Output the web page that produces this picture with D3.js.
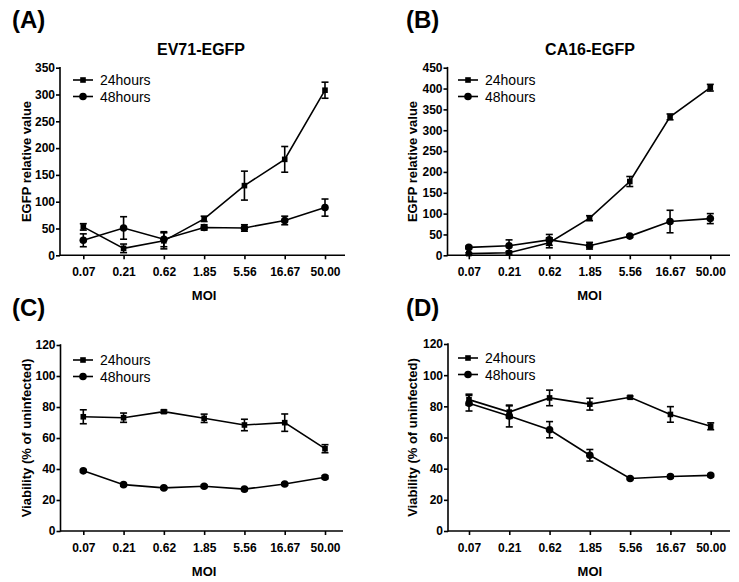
<!DOCTYPE html>
<html>
<head>
<meta charset="utf-8">
<script src="https://cdn.jsdelivr.net/npm/d3@7"></script>
<style>
  html, body { margin: 0; padding: 0; background: #fff; }
  svg { display: block; font-family: "Liberation Sans", Arial, sans-serif; }
</style>
</head>
<body>
<svg id="chart" width="739" height="582"></svg>
<script>
// ---- Data ----
const categories = ["0.07", "0.21", "0.62", "1.85", "5.56", "16.67", "50.00"];
const seriesNames = ["24hours", "48hours"];

// (A) EV71-EGFP
const ev71_24 = [53, 13, 27, 68, 130, 179, 308];
const ev71_24err = [6, 8, 15, 5, 27, 24, 15];
const ev71_48 = [28, 51, 30, 52, 51, 65, 89];
const ev71_48err = [12, 21, 14, 5, 6, 8, 16];

// (B) CA16-EGFP
const ca16_24 = [4, 6, 30, 89, 177, 332, 402];
const ca16_24err = [2, 3, 12, 6, 12, 7, 8];
const ca16_48 = [19, 23, 37, 23, 46, 81, 88];
const ca16_48err = [3, 14, 13, 8, 3, 27, 12];

// (C) viability EV71
const viaC_24 = [73.7, 73.1, 77, 72.7, 68.4, 69.9, 53.1];
const viaC_24err = [4.5, 3, 1, 2.7, 3.7, 5.6, 2.6];
const viaC_48 = [38.8, 29.9, 27.8, 28.9, 27, 30.3, 34.7];
const viaC_48err = [0.8, 0.8, 0.8, 0.8, 0.8, 0.8, 1];

// (D) viability CA16
const viaD_24 = [84.3, 76.3, 85.4, 81.4, 85.8, 74.8, 67.2];
const viaD_24err = [3.5, 4, 5, 3.8, 0.8, 5, 2.2];
const viaD_48 = [82, 73.8, 65, 48.6, 33.7, 35, 35.7];
const viaD_48err = [5, 7, 5.2, 3.7, 0.6, 0.8, 0.8];

const ticksEGFP_A = [0, 50, 100, 150, 200, 250, 300, 350];
const ticksEGFP_B = [0, 50, 100, 150, 200, 250, 300, 350, 400, 450];
const ticksVia = [0, 20, 40, 60, 80, 100, 120];

const panels = [
  { label: "(A)", title: "EV71-EGFP", ylabel: "EGFP relative value",
    s24: ev71_24, e24: ev71_24err, s48: ev71_48, e48: ev71_48err, ticks: ticksEGFP_A,
    axisX: 60, xFirst: 83.3, xLast: 325, axisEnd: 345, yTop: 67.7, yBottom: 255.3,
    labelPos: [12, 28], titlePos: [201, 55], ylabX: 31, xlabY: 300, legX: 73, legY: 80 },
  { label: "(B)", title: "CA16-EGFP", ylabel: "EGFP relative value",
    s24: ca16_24, e24: ca16_24err, s48: ca16_48, e48: ca16_48err, ticks: ticksEGFP_B,
    axisX: 447.5, xFirst: 468.8, xLast: 710.3, axisEnd: 730, yTop: 67.7, yBottom: 255.3,
    labelPos: [406, 28], titlePos: [590, 55], ylabX: 417, xlabY: 300, legX: 458, legY: 80 },
  { label: "(C)", title: "", ylabel: "Viability (% of uninfected)",
    s24: viaC_24, e24: viaC_24err, s48: viaC_48, e48: viaC_48err, ticks: ticksVia,
    axisX: 60.5, xFirst: 83.3, xLast: 325, axisEnd: 343, yTop: 345, yBottom: 531,
    labelPos: [12, 316], titlePos: [201, 330], ylabX: 31, xlabY: 576, legX: 73, legY: 360 },
  { label: "(D)", title: "", ylabel: "Viability (% of uninfected)",
    s24: viaD_24, e24: viaD_24err, s48: viaD_48, e48: viaD_48err, ticks: ticksVia,
    axisX: 448, xFirst: 469, xLast: 710.7, axisEnd: 730, yTop: 344, yBottom: 531,
    labelPos: [406, 316], titlePos: [590, 330], ylabX: 417, xlabY: 576, legX: 458, legY: 358 }
];

const svg = d3.select("#chart");
const LW = 1.6;

panels.forEach(p => {
  const g = svg.append("g");
  const x = d3.scalePoint().domain(categories).range([p.xFirst, p.xLast]);
  const y = d3.scaleLinear().domain([0, d3.max(p.ticks)]).range([p.yBottom, p.yTop]);

  // Panel label
  g.append("text").attr("x", p.labelPos[0]).attr("y", p.labelPos[1])
    .attr("font-size", 24).attr("font-weight", "bold").text(p.label);
  if (p.title) {
    g.append("text").attr("x", p.titlePos[0]).attr("y", p.titlePos[1])
      .attr("text-anchor", "middle").attr("font-size", 16).attr("font-weight", "bold").text(p.title);
  }

  // Y axis
  const yAxis = d3.axisLeft(y).tickValues(p.ticks).tickSize(4).tickPadding(1).tickFormat(d3.format("d"));
  const ya = g.append("g").attr("transform", `translate(${p.axisX},0)`).call(yAxis);
  ya.select(".domain").remove();
  ya.selectAll(".tick line").attr("stroke", "#000").attr("stroke-width", LW);
  ya.selectAll(".tick text").attr("font-size", 12).attr("font-weight", "bold")
    .attr("font-family", "Liberation Sans, Arial, sans-serif").attr("fill", "#000");
  g.append("line").attr("x1", p.axisX).attr("x2", p.axisX)
    .attr("y1", y(d3.max(p.ticks)) - 0.8).attr("y2", p.yBottom + 0.8)
    .attr("stroke", "#000").attr("stroke-width", LW);

  // X axis
  const xAxis = d3.axisBottom(x).tickSize(4).tickPadding(8);
  const xa = g.append("g").attr("transform", `translate(0,${p.yBottom})`).call(xAxis);
  xa.select(".domain").remove();
  xa.selectAll(".tick line").attr("stroke", "#000").attr("stroke-width", LW);
  xa.selectAll(".tick text").attr("font-size", 12).attr("font-weight", "bold")
    .attr("font-family", "Liberation Sans, Arial, sans-serif").attr("fill", "#000");
  g.append("line").attr("x1", p.axisX).attr("x2", p.axisEnd)
    .attr("y1", p.yBottom).attr("y2", p.yBottom)
    .attr("stroke", "#000").attr("stroke-width", LW);

  // Axis titles
  g.append("text").attr("x", (p.xFirst + p.xLast) / 2).attr("y", p.xlabY)
    .attr("text-anchor", "middle").attr("font-size", 13).attr("font-weight", "bold").text("MOI");
  g.append("text")
    .attr("transform", `translate(${p.ylabX},${(p.yTop + p.yBottom) / 2}) rotate(-90)`)
    .attr("text-anchor", "middle").attr("font-size", 13).attr("font-weight", "bold").text(p.ylabel);

  const line = d3.line().x((d, i) => x(categories[i])).y(d => y(d));
  const series = [
    { vals: p.s24, errs: p.e24, shape: "square" },
    { vals: p.s48, errs: p.e48, shape: "circle" }
  ];

  series.forEach(s => {
    g.append("path").datum(s.vals).attr("d", line)
      .attr("fill", "none").attr("stroke", "#000").attr("stroke-width", LW);
    // error bars
    const eb = g.append("g");
    s.vals.forEach((v, i) => {
      const cx = x(categories[i]);
      const top = y(v + s.errs[i]), bot = y(v - s.errs[i]);
      eb.append("line").attr("x1", cx).attr("x2", cx).attr("y1", top).attr("y2", bot)
        .attr("stroke", "#000").attr("stroke-width", LW);
      [top, bot].forEach(yy => eb.append("line").attr("x1", cx - 3.5).attr("x2", cx + 3.5)
        .attr("y1", yy).attr("y2", yy).attr("stroke", "#000").attr("stroke-width", LW));
    });
    // markers
    s.vals.forEach((v, i) => {
      const cx = x(categories[i]), cy = y(v);
      if (s.shape === "square") {
        g.append("rect").attr("x", cx - 2.8).attr("y", cy - 2.8).attr("width", 5.6).attr("height", 5.6).attr("fill", "#000");
      } else {
        g.append("circle").attr("cx", cx).attr("cy", cy).attr("r", 3.8).attr("fill", "#000");
      }
    });
  });

  // Legend
  seriesNames.forEach((name, k) => {
    const ly = p.legY + k * 16.5;
    g.append("line").attr("x1", p.legX).attr("x2", p.legX + 20).attr("y1", ly).attr("y2", ly)
      .attr("stroke", "#000").attr("stroke-width", LW);
    if (k === 0) {
      g.append("rect").attr("x", p.legX + 10 - 2.8).attr("y", ly - 2.8).attr("width", 5.6).attr("height", 5.6).attr("fill", "#000");
    } else {
      g.append("circle").attr("cx", p.legX + 10).attr("cy", ly).attr("r", 3.8).attr("fill", "#000");
    }
    g.append("text").attr("x", p.legX + 27).attr("y", ly + 5).attr("font-size", 14).text(name);
  });
});
</script>
</body>
</html>
